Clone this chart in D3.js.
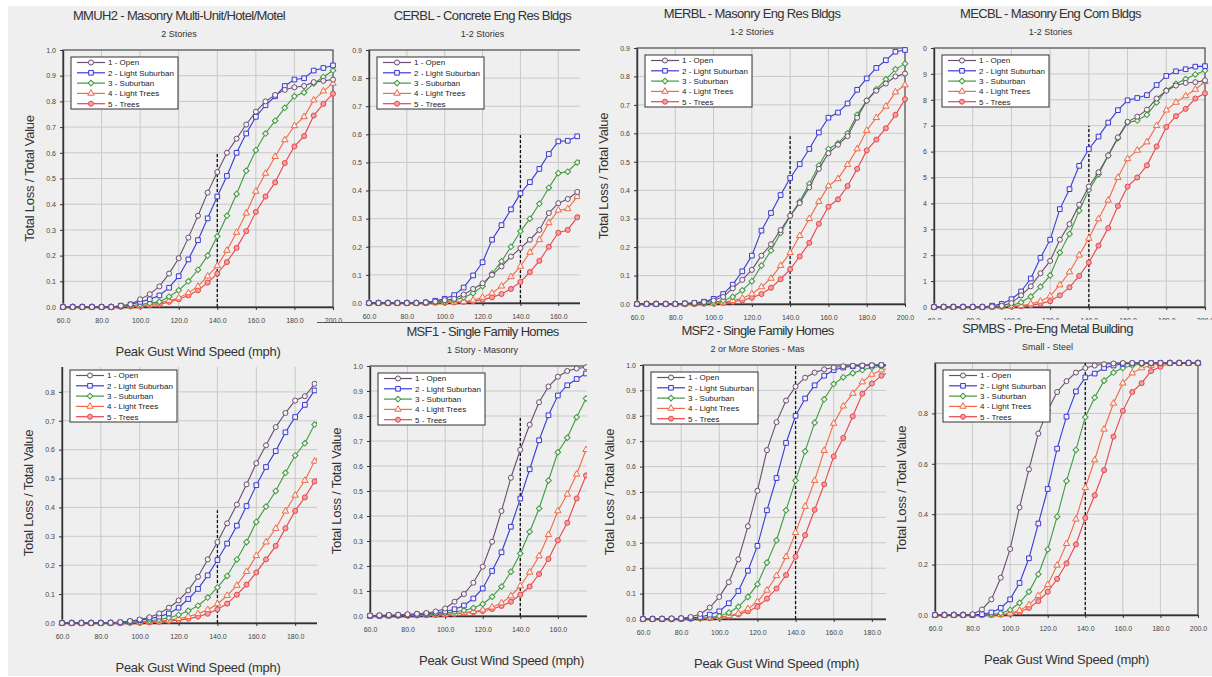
<!DOCTYPE html>
<html>
<head>
<meta charset="utf-8">
<script src="https://cdn.jsdelivr.net/npm/d3@7"></script>
<style>
  body { margin: 0; background: #fff; }
  svg { display: block; font-family: Arial, "Liberation Sans", sans-serif; }
</style>
</head>
<body>
<div id="chart"></div>
<script>
// Wind speeds (mph) for every marker along the curves
const windSpeeds = [60, 65, 70, 75, 80, 85, 90, 95, 100, 105, 110, 115, 120, 125, 130, 135, 140,
  145, 150, 155, 160, 165, 170, 175, 180, 185, 190, 195, 200];

// Terrain (surface roughness) series
const zoneLabels = ["1 - Open", "2 - Light Suburban", "3 - Suburban", "4 - Light Trees", "5 - Trees"];
const zoneColors = ["#6b4f70", "#3a3ad8", "#3f9b3f", "#f26a45", "#e8454b"];
const zoneFills = ["#f2f2f2", "#f2f2f2", "#f2f2f2", "#f2f2f2", "#f2a0a0"];
const zoneMarkers = [d3.symbolCircle, d3.symbolSquare, d3.symbolSquare, d3.symbolTriangle, d3.symbolCircle];
const zoneRotations = [0, 0, 45, 0, 0];
const markerSizes = [20, 22, 16, 18, 20];

// Tick labels
const xTicks = [60, 80, 100, 120, 140, 160, 180, 200];
const yTicksTenth = [0, 0.1, 0.2, 0.3, 0.4, 0.5, 0.6, 0.7, 0.8, 0.9, 1.0];
const yTicksNine = [0, 0.1, 0.2, 0.3, 0.4, 0.5, 0.6, 0.7, 0.8, 0.9];
const yTicksEight = [0, 0.1, 0.2, 0.3, 0.4, 0.5, 0.6, 0.7, 0.8];
const yTicksFifth = [0, 0.2, 0.4, 0.6, 0.8];

const designSpeed = 140;

// Loss ratio curves, one row per terrain, values by windSpeeds index
const mmuh2Loss = [
  [0, 0, 0, 0, 0, 0, .005, .01, .03, .05, .08, .13, .19, .27, .355, .445, .525, .6, .655, .71, .76, .8, .825, .845, .855, .86, .875, .88, .885],
  [0, 0, 0, 0, 0, 0, .005, .01, .02, .03, .045, .075, .12, .185, .26, .345, .43, .51, .6, .675, .74, .785, .82, .86, .885, .89, .92, .93, .94],
  [0, 0, 0, 0, 0, 0, .002, .005, .01, .015, .02, .04, .065, .1, .145, .2, .275, .355, .44, .53, .61, .675, .725, .775, .82, .835, .87, .895, .92],
  [0, 0, 0, 0, 0, 0, .001, .003, .005, .01, .015, .025, .035, .055, .08, .12, .16, .22, .29, .365, .45, .52, .585, .65, .705, .74, .805, .84, .87],
  [0, 0, 0, 0, 0, 0, .001, .002, .003, .007, .01, .02, .03, .045, .065, .095, .13, .175, .23, .295, .37, .43, .485, .56, .625, .665, .745, .79, .83]
];
const cerblLoss = [
  [0, 0, 0, 0, 0, 0, .002, .005, .01, .015, .03, .05, .07, .1, .13, .165, .195, .225, .26, .32, .355, .37, .395, .42],
  [0, 0, 0, 0, 0, 0, .002, .008, .015, .028, .055, .098, .145, .225, .277, .333, .39, .43, .477, .53, .575, .577, .593, .61],
  [0, 0, 0, 0, 0, 0, .001, .003, .005, .01, .02, .035, .06, .105, .148, .2, .255, .3, .353, .41, .462, .467, .5, .53],
  [0, 0, 0, 0, 0, 0, 0, .001, .002, .003, .005, .01, .02, .035, .06, .093, .13, .18, .225, .285, .33, .335, .378, .4],
  [0, 0, 0, 0, 0, 0, 0, .001, .001, .002, .004, .006, .012, .02, .032, .05, .075, .11, .15, .2, .25, .26, .305, .33]
];
const merblLoss = [
  [0, 0, 0, 0, 0, .002, .004, .007, .012, .025, .055, .085, .12, .17, .21, .26, .31, .355, .41, .475, .53, .56, .59, .655, .715, .75, .775, .8, .81],
  [0, 0, 0, 0, 0, .002, .004, .008, .018, .035, .068, .115, .17, .258, .32, .383, .443, .492, .545, .603, .655, .673, .705, .753, .793, .83, .857, .887, .893],
  [0, 0, 0, 0, 0, 0, .001, .002, .005, .012, .025, .048, .08, .135, .188, .25, .31, .36, .423, .487, .545, .565, .6, .665, .715, .755, .79, .825, .845],
  [0, 0, 0, 0, 0, 0, 0, .001, .003, .006, .012, .02, .035, .06, .09, .135, .18, .24, .3, .36, .415, .44, .49, .545, .61, .655, .695, .745, .77],
  [0, 0, 0, 0, 0, 0, 0, .001, .002, .004, .008, .013, .022, .035, .057, .087, .122, .167, .215, .282, .342, .368, .415, .475, .54, .578, .618, .665, .72]
];
const mecblLoss = [
  [0, 0, 0, 0, 0, 0, .002, .005, .015, .045, .08, .13, .178, .26, .32, .395, .465, .52, .585, .655, .715, .735, .762, .805, .835, .855, .865, .868, .875],
  [0, 0, 0, 0, 0, 0, .005, .012, .03, .06, .11, .19, .26, .378, .455, .545, .61, .658, .712, .76, .798, .807, .818, .857, .892, .91, .918, .928, .93],
  [0, 0, 0, 0, 0, 0, .001, .002, .005, .018, .04, .078, .122, .21, .282, .372, .452, .512, .585, .652, .712, .72, .742, .79, .837, .862, .88, .898, .913],
  [0, 0, 0, 0, 0, 0, 0, .001, .003, .005, .012, .022, .042, .085, .135, .2, .265, .34, .412, .5, .572, .605, .637, .7, .76, .79, .815, .84, .87],
  [0, 0, 0, 0, 0, 0, 0, .001, .002, .003, .007, .013, .022, .045, .076, .12, .172, .237, .305, .39, .465, .5, .547, .62, .695, .737, .765, .805, .825]
];
const hiddenLoss = [
  [0, 0, 0, 0, 0, .001, .003, .007, .012, .02, .033, .053, .078, .113, .16, .22, .28, .345, .41, .48, .553, .615, .678, .727, .77, .785, .828, .85],
  [0, 0, 0, 0, 0, .001, .002, .005, .01, .015, .022, .033, .053, .083, .118, .165, .218, .275, .337, .405, .477, .54, .595, .66, .713, .755, .805, .83],
  [0, 0, 0, 0, 0, 0, .001, .002, .004, .007, .012, .018, .028, .042, .06, .088, .123, .163, .22, .28, .35, .403, .457, .52, .58, .622, .687, .72],
  [0, 0, 0, 0, 0, 0, 0, .001, .002, .004, .007, .01, .015, .022, .032, .046, .066, .095, .13, .178, .233, .28, .327, .387, .442, .493, .56, .6],
  [0, 0, 0, 0, 0, 0, 0, .001, .001, .002, .004, .007, .01, .015, .022, .032, .047, .067, .098, .133, .175, .22, .267, .328, .388, .435, .49, .53]
];
const msf1Loss = [
  [.002, .003, .004, .005, .007, .009, .012, .018, .03, .057, .088, .133, .197, .297, .42, .553, .665, .765, .855, .918, .957, .98, .99, .995, .998],
  [.001, .001, .002, .003, .004, .006, .009, .013, .018, .027, .042, .07, .11, .18, .255, .357, .47, .587, .703, .803, .882, .923, .948, .97, .98],
  [.001, .001, .002, .002, .003, .004, .006, .008, .012, .017, .022, .032, .048, .077, .118, .177, .25, .337, .43, .542, .655, .713, .795, .87, .92],
  [0, .001, .001, .002, .002, .003, .004, .005, .007, .01, .014, .018, .024, .035, .052, .08, .12, .175, .24, .325, .42, .487, .567, .665, .75],
  [0, 0, .001, .001, .002, .002, .003, .004, .006, .008, .011, .015, .02, .028, .04, .057, .085, .118, .168, .228, .303, .373, .47, .562, .65]
];
const msf2Loss = [
  [0, 0, .001, .002, .003, .008, .02, .045, .087, .145, .235, .365, .505, .665, .775, .86, .915, .95, .97, .983, .99, .995, .997, .998, .999, 1, 1],
  [0, 0, 0, .001, .002, .004, .008, .017, .03, .062, .11, .19, .288, .428, .555, .693, .8, .868, .92, .958, .98, .99, .995, .997, .998, .999, 1],
  [0, 0, 0, 0, .001, .002, .003, .006, .012, .025, .048, .087, .137, .222, .31, .428, .545, .66, .773, .865, .925, .952, .968, .98, .99, .995, .998],
  [0, 0, 0, 0, 0, .001, .002, .004, .008, .013, .022, .04, .068, .113, .17, .245, .34, .443, .545, .663, .77, .838, .888, .933, .963, .98, .99],
  [0, 0, 0, 0, 0, .001, .002, .003, .006, .01, .018, .03, .048, .08, .12, .173, .245, .33, .43, .53, .64, .713, .798, .887, .927, .958, .975]
];
const spmbsLoss = [
  [0, 0, 0, 0, .003, .022, .062, .148, .262, .427, .578, .72, .812, .885, .928, .962, .98, .99, .995, .998, 1, 1, 1, 1, 1, 1, 1, 1, 1],
  [0, 0, 0, 0, 0, .003, .01, .028, .062, .127, .225, .363, .5, .66, .787, .887, .943, .958, .98, .99, .996, .998, 1, 1, 1, 1, 1, 1, 1],
  [0, 0, 0, 0, 0, 0, .002, .007, .02, .048, .092, .162, .26, .39, .532, .655, .785, .863, .93, .962, .98, .99, .996, .998, 1, 1, 1, 1, 1],
  [0, 0, 0, 0, 0, 0, 0, .002, .007, .018, .04, .077, .12, .197, .283, .38, .505, .615, .737, .84, .92, .96, .98, .99, .996, 1, 1, 1, 1],
  [0, 0, 0, 0, 0, 0, 0, .001, .004, .012, .028, .055, .092, .143, .205, .28, .385, .475, .575, .708, .81, .885, .92, .968, .985, 1, 1, 1, 1]
];

// Panel layout: clip = visible part of each screenshot, plot = [left, top, width, height]
const panels = [
  { title: "MMUH2 - Masonry Multi-Unit/Hotel/Motel", subtitle: "2 Stories", loss: mmuh2Loss,
    yMax: 1.0, yTicks: yTicksTenth, dashTop: 0.6, clip: [8, 6, 345, 367], plot: [63, 50, 270, 257], xLabel: true, yLabel: true },
  { title: "CERBL - Concrete Eng Res Bldgs", subtitle: "1-2 Stories", loss: cerblLoss,
    yMax: 0.9, yTicks: yTicksNine, dashTop: 0.6, clip: [345, 6, 580, 322], plot: [369, 50, 265, 253], xLabel: false, yLabel: false },
  { title: "MERBL - Masonry Eng Res Bldgs", subtitle: "1-2 Stories", loss: merblLoss,
    yMax: 0.9, yTicks: yTicksNine, dashTop: 0.59, clip: [580, 6, 923, 322], plot: [637, 48, 268, 256], xLabel: false, yLabel: true },
  { title: "MECBL - Masonry Eng Com Bldgs", subtitle: "1-2 Stories", loss: mecblLoss,
    yMax: 1.0, yTicks: yTicksTenth, dashTop: 0.7, clip: [923, 6, 1212, 320], plot: [934, 48, 271, 259], xLabel: false, yLabel: false },
  { title: "", subtitle: "", loss: hiddenLoss,
    yMax: 0.9, yTicks: yTicksEight, dashTop: 0.39, clip: [8, 367, 317, 676], plot: [62, 363, 272, 260], xLabel: true, yLabel: true },
  { title: "MSF1 - Single Family Homes", subtitle: "1 Story - Masonry", loss: msf1Loss,
    yMax: 1.0, yTicks: yTicksTenth, dashTop: 0.8, clip: [317, 322, 587, 676], plot: [370, 366, 263, 250], xLabel: true, yLabel: true, topRule: true },
  { title: "MSF2 - Single Family Homes", subtitle: "2 or More Stories - Mas", loss: msf2Loss,
    yMax: 1.0, yTicks: yTicksTenth, dashTop: 1.0, clip: [587, 322, 886, 676], plot: [643, 365, 267, 254], xLabel: true, yLabel: true },
  { title: "SPMBS - Pre-Eng Metal Building", subtitle: "Small - Steel", loss: spmbsLoss,
    yMax: 1.0, yTicks: yTicksFifth, dashTop: 1.0, clip: [886, 320, 1212, 676], plot: [935, 363, 263, 252], xLabel: true, yLabel: true }
];

const width = 1212;
const height = 677;

const svg = d3.select("#chart")
  .append("svg")
  .attr("width", width)
  .attr("height", height);

// Light gray collage background
svg.append("rect")
  .attr("x", 8).attr("y", 6)
  .attr("width", width - 8).attr("height", 670)
  .attr("fill", "#efefef");

const fmt = d3.format(".1f");

function marker(si) {
  return d3.symbol().type(zoneMarkers[si]).size(markerSizes[si])();
}

panels.forEach((p, pi) => {
  const [cx0, cy0, cx1, cy1] = p.clip;
  const [left, top, w, h] = p.plot;
  const bottom = top + h;

  svg.append("clipPath")
    .attr("id", `clip-${pi}`)
    .append("rect")
    .attr("x", cx0).attr("y", cy0)
    .attr("width", cx1 - cx0).attr("height", cy1 - cy0);

  const g = svg.append("g").attr("clip-path", `url(#clip-${pi})`);

  // Cover whatever panel lies underneath
  g.append("rect")
    .attr("x", cx0).attr("y", cy0)
    .attr("width", cx1 - cx0).attr("height", cy1 - cy0)
    .attr("fill", "#efefef");

  if (p.topRule) {
    g.append("line")
      .attr("x1", cx0).attr("x2", cx1)
      .attr("y1", cy0 + 0.5).attr("y2", cy0 + 0.5)
      .attr("stroke", "#555").attr("stroke-width", 1);
  }

  const x = d3.scaleLinear().domain([60, 200]).range([left, left + w]);
  const y = d3.scaleLinear().domain([0, p.yMax]).range([bottom, top]);

  // Grid
  g.append("g")
    .selectAll("line")
    .data(xTicks)
    .join("line")
    .attr("x1", (d) => x(d)).attr("x2", (d) => x(d))
    .attr("y1", top).attr("y2", bottom)
    .attr("stroke", "#c9c9c9");

  g.append("g")
    .selectAll("line")
    .data(p.yTicks)
    .join("line")
    .attr("x1", left).attr("x2", left + w)
    .attr("y1", (d) => y(d)).attr("y2", (d) => y(d))
    .attr("stroke", "#c9c9c9");

  // Frame
  g.append("rect")
    .attr("x", left).attr("y", top)
    .attr("width", w).attr("height", h)
    .attr("fill", "none")
    .attr("stroke", "#555")
    .attr("stroke-width", 1.2);

  // Axes
  const xAxis = g.append("g")
    .attr("transform", `translate(0,${bottom})`)
    .call(d3.axisBottom(x).tickValues(xTicks).tickFormat(fmt).tickSize(3).tickSizeOuter(0).tickPadding(8));
  const yAxis = g.append("g")
    .attr("transform", `translate(${left},0)`)
    .call(d3.axisLeft(y).tickValues(p.yTicks).tickFormat(fmt).tickSize(3).tickSizeOuter(0).tickPadding(4));

  [xAxis, yAxis].forEach((ax) => {
    ax.select(".domain").attr("stroke", "#333").attr("stroke-width", 1.4);
    ax.selectAll(".tick line").attr("stroke", "#333");
    ax.selectAll("text")
      .attr("fill", "#444")
      .style("font-size", "7px")
      .style("font-family", "Arial, 'Liberation Sans', sans-serif");
  });

  // Design speed marker
  g.append("line")
    .attr("x1", x(designSpeed)).attr("x2", x(designSpeed))
    .attr("y1", y(0)).attr("y2", y(p.dashTop))
    .attr("stroke", "#111")
    .attr("stroke-width", 1.3)
    .attr("stroke-dasharray", "3,2");

  // Curves, drawn from trees up so open sits on top
  const line = d3.line()
    .x((d) => x(d[0]))
    .y((d) => y(d[1]));

  d3.range(p.loss.length - 1, -1, -1).forEach((si) => {
    const pts = p.loss[si].map((v, i) => [windSpeeds[i], v]);
    g.append("path")
      .datum(pts)
      .attr("d", line)
      .attr("fill", "none")
      .attr("stroke", zoneColors[si])
      .attr("stroke-width", 1.1);

    g.append("g")
      .selectAll("path")
      .data(pts)
      .join("path")
      .attr("transform", (d) => `translate(${x(d[0])},${y(d[1])}) rotate(${zoneRotations[si]})`)
      .attr("d", marker(si))
      .attr("fill", zoneFills[si])
      .attr("stroke", zoneColors[si])
      .attr("stroke-width", 1);
  });

  // Legend
  const lg = g.append("g").attr("transform", `translate(${left + 8},${top + 7})`);
  lg.append("rect")
    .attr("width", 107).attr("height", 52)
    .attr("fill", "#fff")
    .attr("stroke", "#333")
    .attr("stroke-width", 1);

  const rows = lg.selectAll(".row")
    .data(zoneLabels)
    .join("g")
    .attr("class", "row")
    .attr("transform", (d, i) => `translate(0,${5.5 + i * 10.3})`);

  rows.append("line")
    .attr("x1", 6).attr("x2", 34)
    .attr("stroke", (d, i) => zoneColors[i])
    .attr("stroke-width", 1.2);
  rows.append("path")
    .attr("transform", (d, i) => `translate(20,0) rotate(${zoneRotations[i]})`)
    .attr("d", (d, i) => marker(i))
    .attr("fill", (d, i) => zoneFills[i])
    .attr("stroke", (d, i) => zoneColors[i]);
  rows.append("text")
    .attr("x", 37)
    .attr("dy", "0.35em")
    .style("font-size", "8px")
    .attr("fill", "#222")
    .text((d) => d);

  // Titles
  const cx = left + w / 2 - 19;
  if (p.title) {
    g.append("text")
      .attr("x", cx).attr("y", top - 35)
      .attr("dy", "0.35em")
      .attr("text-anchor", "middle")
      .style("font-size", "13px")
      .style("letter-spacing", "-0.65px")
      .attr("fill", "#333")
      .text(p.title);
    g.append("text")
      .attr("x", cx).attr("y", top - 16)
      .attr("dy", "0.35em")
      .attr("text-anchor", "middle")
      .style("font-size", "9px")
      .attr("fill", "#333")
      .text(p.subtitle);
  }

  // Axis titles (only where the screenshot leaves them visible)
  if (p.yLabel) {
    g.append("text")
      .attr("transform", `translate(${left - 34},${top + h / 2}) rotate(-90)`)
      .attr("dy", "0.35em")
      .attr("text-anchor", "middle")
      .style("font-size", "13px")
      .style("letter-spacing", "-0.25px")
      .attr("fill", "#333")
      .text("Total Loss / Total Value");
  }
  if (p.xLabel) {
    g.append("text")
      .attr("x", left + w / 2).attr("y", bottom + 44)
      .attr("dy", "0.35em")
      .attr("text-anchor", "middle")
      .style("font-size", "13px")
      .style("letter-spacing", "-0.3px")
      .attr("fill", "#333")
      .text("Peak Gust Wind Speed (mph)");
  }
});
</script>
</body>
</html>
